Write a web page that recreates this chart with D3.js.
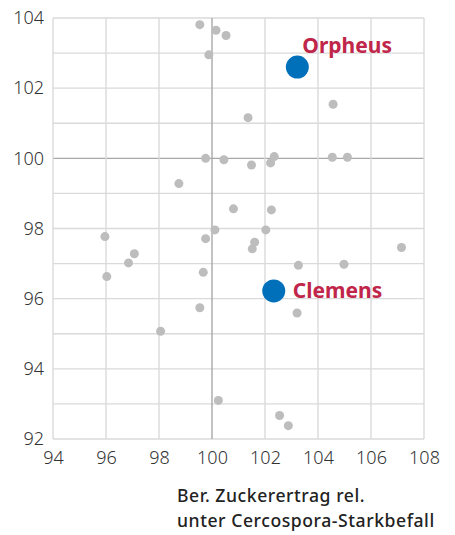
<!DOCTYPE html>
<html>
<head>
<meta charset="utf-8">
<script src="https://cdn.jsdelivr.net/npm/d3@7"></script>
<style>
  body { margin: 0; background: #fff; }
  svg text { font-family: "Noto Sans", sans-serif; }
</style>
</head>
<body>
<div id="chart"></div>
<script>
var svgWidth = 455;
var svgHeight = 535;

// plot area
var margin = { top: 18, right: 31, bottom: 96, left: 53 };
var width = svgWidth - margin.left - margin.right;
var height = svgHeight - margin.top - margin.bottom;

// grey varieties: x = sugar yield under heavy Cercospora, y = second trait
var greyX = [99.54, 100.15, 100.53, 99.88, 104.57, 101.36, 99.76, 100.45, 101.49, 102.21,
             102.35, 104.54, 105.11, 98.75, 100.81, 102.24, 100.11, 102.03, 99.76, 95.96,
             96.03, 96.85, 97.07, 99.67, 99.54, 98.06, 100.24, 101.61, 101.52, 107.15,
             103.26, 104.98, 103.21, 102.55, 102.88];
var greyY = [103.81, 103.65, 103.50, 102.95, 101.54, 101.16, 100.00, 99.96, 99.81, 99.87,
             100.05, 100.03, 100.03, 99.28, 98.56, 98.53, 97.96, 97.96, 97.71, 97.77,
             96.63, 97.02, 97.28, 96.75, 95.74, 95.07, 93.10, 97.61, 97.42, 97.46,
             96.95, 96.98, 95.59, 92.67, 92.38];

// highlighted varieties
var highlightNames = ["Orpheus", "Clemens"];
var highlightX = [103.22, 102.33];
var highlightY = [102.60, 96.22];

var xTicks = [94, 96, 98, 100, 102, 104, 106, 108];
var yTicks = [92, 94, 96, 98, 100, 102, 104];
var yGrid = [92, 93, 94, 95, 96, 97, 98, 99, 100, 101, 102, 103, 104];

var svg = d3.select("#chart")
    .append("svg")
    .attr("width", svgWidth)
    .attr("height", svgHeight);

var chartGroup = svg.append("g")
    .attr("transform", `translate(${margin.left}, ${margin.top})`);

var xScale = d3.scaleLinear().domain([94, 108]).range([0, width]);
var yScale = d3.scaleLinear().domain([92, 104]).range([height, 0]);

// grid lines
chartGroup.append("g").selectAll("line")
    .data(yGrid)
    .enter().append("line")
    .attr("x1", 0)
    .attr("x2", width)
    .attr("y1", d => yScale(d))
    .attr("y2", d => yScale(d))
    .attr("stroke", d => d === 100 ? "#a8a8a8" : "#dadada")
    .attr("stroke-width", 1.4);

chartGroup.append("g").selectAll("line")
    .data(xTicks)
    .enter().append("line")
    .attr("x1", d => xScale(d))
    .attr("x2", d => xScale(d))
    .attr("y1", 0)
    .attr("y2", height)
    .attr("stroke", d => d === 100 ? "#a8a8a8" : "#dadada")
    .attr("stroke-width", 1.4);

// axes (labels only)
var bottomAxis = d3.axisBottom(xScale).tickValues(xTicks).tickSize(0).tickPadding(12);
var leftAxis = d3.axisLeft(yScale).tickValues(yTicks).tickSize(0).tickPadding(9);

var xAxis = chartGroup.append("g")
    .attr("transform", `translate(0, ${height})`)
    .call(bottomAxis);
var yAxis = chartGroup.append("g")
    .call(leftAxis);

[xAxis, yAxis].forEach(function(ax) {
    ax.select(".domain").remove();
    ax.selectAll("text")
        .attr("font-family", "Noto Sans, sans-serif")
        .attr("font-size", "18px")
        .attr("font-weight", 300)
        .attr("fill", "#333");
});

// grey points
chartGroup.append("g").selectAll("circle")
    .data(greyX)
    .enter().append("circle")
    .attr("cx", d => xScale(d))
    .attr("cy", (d, i) => yScale(greyY[i]))
    .attr("r", 4.5)
    .attr("fill", "#bdbdbd");

// highlighted points
chartGroup.append("g").selectAll("circle")
    .data(highlightX)
    .enter().append("circle")
    .attr("cx", d => xScale(d))
    .attr("cy", (d, i) => yScale(highlightY[i]))
    .attr("r", 11.5)
    .attr("fill", "#0070bb");

// highlight labels
var labelOffsets = [[5, -14], [19, 7]];
chartGroup.append("g").selectAll("text")
    .data(highlightNames)
    .enter().append("text")
    .attr("x", (d, i) => xScale(highlightX[i]) + labelOffsets[i][0])
    .attr("y", (d, i) => yScale(highlightY[i]) + labelOffsets[i][1])
    .attr("font-size", "21px")
    .attr("font-weight", "bold")
    .attr("fill", "#c0254a")
    .text(d => d);

// x axis title
var title = svg.append("text")
    .attr("font-size", "17.6px")
    .attr("font-weight", 500)
    .attr("letter-spacing", "0.55px")
    .attr("fill", "#222");
title.append("tspan").attr("x", 177).attr("y", 502).text("Ber. Zuckerertrag rel.");
title.append("tspan").attr("x", 177).attr("y", 527).text("unter Cercospora-Starkbefall");
</script>
</body>
</html>
